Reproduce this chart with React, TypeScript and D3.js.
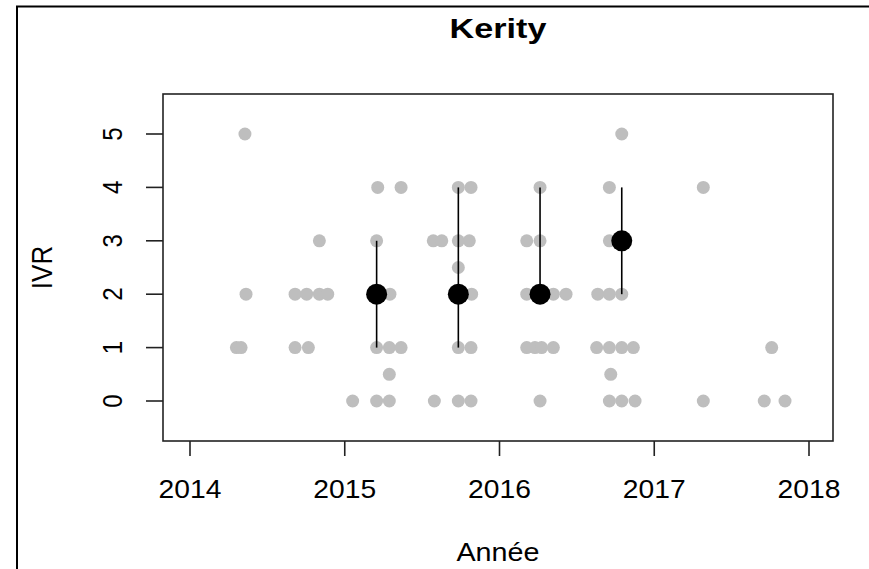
import React from "react";
import { scaleLinear } from "d3";

// grey points: observation date (decimal year) and IVR score
const obsYears = [
  2014.300, 2014.330, 2014.355, 2014.362,
  2014.679, 2014.754, 2014.836, 2014.890, 2014.836, 2014.679, 2014.765,
  2015.213, 2015.364, 2015.206, 2015.206, 2015.292, 2015.206, 2015.288, 2015.364,
  2015.288, 2015.051, 2015.206, 2015.288,
  2015.572, 2015.627, 2015.734, 2015.816, 2015.734, 2015.805, 2015.734, 2015.734,
  2015.820, 2015.734, 2015.816, 2015.579, 2015.734, 2015.816,
  2016.262, 2016.176, 2016.262, 2016.176, 2016.262, 2016.348, 2016.430,
  2016.176, 2016.229, 2016.272, 2016.348, 2016.262,
  2016.710, 2016.790, 2016.710, 2016.790, 2016.635, 2016.710, 2016.790,
  2016.628, 2016.710, 2016.790, 2016.865, 2016.719, 2016.710, 2016.790, 2016.876,
  2017.317, 2017.759, 2017.317, 2017.711, 2017.845,
];
const obsIVR = [
  1, 1, 5, 2,
  2, 2, 2, 2, 3, 1, 1,
  4, 4, 3, 2, 2, 1, 1, 1,
  0.5, 0, 0, 0,
  3, 3, 4, 4, 3, 3, 2.5, 2,
  2, 1, 1, 0, 0, 0,
  4, 3, 3, 2, 2, 2, 2,
  1, 1, 1, 1, 0,
  4, 5, 3, 3, 2, 2, 2,
  1, 1, 1, 1, 0.5, 0, 0, 0,
  4, 1, 0, 0, 0,
];

// black summary points with their bars
const meanYears = [2015.206, 2015.734, 2016.262, 2016.79];
const meanIVR = [2, 2, 2, 3];
const lowIVR = [1, 1, 2, 2];
const highIVR = [3, 4, 4, 4];

const xTicks = [2014, 2015, 2016, 2017, 2018];
const yTicks = [0, 1, 2, 3, 4, 5];

const title = "Kerity";
const xLabel = "Année";
const yLabel = "IVR";

export default function App() {
  const width = 869;
  const height = 569;
  const box = { left: 163, right: 833, top: 94, bottom: 441 };

  const x = scaleLinear().domain([2014, 2018]).range([190, 809]);
  const y = scaleLinear().domain([0, 5]).range([401, 134]);

  const font = "'Liberation Sans', Arial, sans-serif";
  const stretch = 1.13;

  return (
    <svg
      width={width}
      height={height}
      style={{ position: "absolute", left: 0, top: 0, background: "#fff" }}
    >
      {/* outer frame */}
      <path d={`M17,${height} L17,6.5 L${width},6.5`} fill="none" stroke="#000" strokeWidth={2} />

      {/* grey observations */}
      {obsYears.map((yr, i) => (
        <circle key={"o" + i} cx={x(yr)} cy={y(obsIVR[i])} r={6.5} fill="#bebebe" />
      ))}

      {/* summary bars + points */}
      {meanYears.map((yr, i) => (
        <line
          key={"b" + i}
          x1={x(yr)}
          x2={x(yr)}
          y1={y(lowIVR[i])}
          y2={y(highIVR[i])}
          stroke="#000"
          strokeWidth={1.6}
        />
      ))}
      {meanYears.map((yr, i) => (
        <circle key={"m" + i} cx={x(yr)} cy={y(meanIVR[i])} r={10.5} fill="#000" />
      ))}

      {/* plot box */}
      <rect
        x={box.left}
        y={box.top}
        width={box.right - box.left}
        height={box.bottom - box.top}
        fill="none"
        stroke="#222"
        strokeWidth={1.6}
      />

      {/* x axis */}
      {xTicks.map(t => (
        <g key={"x" + t}>
          <line x1={x(t)} x2={x(t)} y1={box.bottom} y2={box.bottom + 15} stroke="#222" strokeWidth={1.6} />
          <text
            transform={`translate(${x(t)},498) scale(${stretch},1)`}
            textAnchor="middle"
            fontFamily={font}
            fontSize={25}
            fill="#000"
          >
            {t}
          </text>
        </g>
      ))}

      {/* y axis */}
      {yTicks.map(t => (
        <g key={"y" + t}>
          <line x1={box.left - 17} x2={box.left} y1={y(t)} y2={y(t)} stroke="#222" strokeWidth={1.6} />
          <text
            transform={`translate(122,${y(t)}) scale(${stretch},1) rotate(-90)`}
            textAnchor="middle"
            fontFamily={font}
            fontSize={24}
            fill="#000"
          >
            {t}
          </text>
        </g>
      ))}

      {/* labels */}
      <text
        transform={`translate(${(box.left + box.right) / 2},38) scale(1.22,1)`}
        textAnchor="middle"
        fontFamily={font}
        fontSize={28}
        fontWeight="bold"
        fill="#000"
      >
        {title}
      </text>
      <text
        transform={`translate(${(box.left + box.right) / 2},561) scale(1.15,1)`}
        textAnchor="middle"
        fontFamily={font}
        fontSize={25}
        fill="#000"
      >
        {xLabel}
      </text>
      <text
        transform={`translate(52,${(box.top + box.bottom) / 2}) scale(${stretch},1) rotate(-90)`}
        textAnchor="middle"
        fontFamily={font}
        fontSize={26}
        fill="#000"
      >
        {yLabel}
      </text>
    </svg>
  );
}
